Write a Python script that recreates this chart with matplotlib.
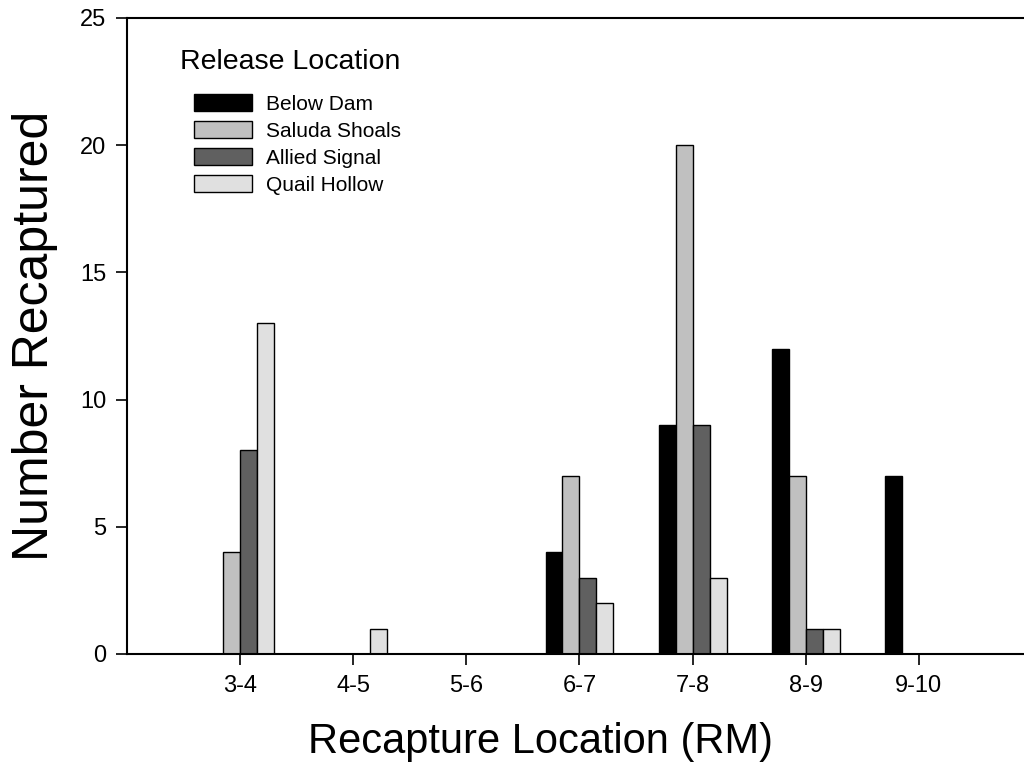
import matplotlib
matplotlib.use("Agg")
import matplotlib.pyplot as plt
import numpy as np

plt.rcParams['font.family'] = ['Liberation Sans', 'DejaVu Sans']

categories = ["3-4", "4-5", "5-6", "6-7", "7-8", "8-9", "9-10"]
series_names = ["Below Dam", "Saluda Shoals", "Allied Signal", "Quail Hollow"]
below_dam = [0, 0, 0, 4, 9, 12, 7]
saluda_shoals = [4, 0, 0, 7, 20, 7, 0]
allied_signal = [8, 0, 0, 3, 9, 1, 0]
quail_hollow = [13, 1, 0, 2, 3, 1, 0]
series_values = [below_dam, saluda_shoals, allied_signal, quail_hollow]
colors = ["#000000", "#c0c0c0", "#606060", "#e0e0e0"]
y_ticks = [0, 5, 10, 15, 20, 25]

fig = plt.figure(figsize=(10.24, 7.8), dpi=100)
ax = fig.add_axes([127/1024, 126/780, 897/1024, 636/780])

x = np.arange(len(categories))
w = 0.15
for i, (name, vals, c) in enumerate(zip(series_names, series_values, colors)):
    ax.bar(x + (i - 2) * w, vals, width=w, align='edge', color=c,
           edgecolor='black', linewidth=1.0, label=name, zorder=2)

ax.set_xlim(-1, 6.93)
ax.set_ylim(0, 25)
ax.set_xticks(x)
ax.set_xticklabels(categories, fontsize=17)
ax.set_yticks(y_ticks)
ax.set_yticklabels([str(t) for t in y_ticks], fontsize=17)
ax.tick_params(direction='out', length=8, width=1.2, pad=7)
ax.spines['right'].set_visible(False)
for s in ['left', 'top', 'bottom']:
    ax.spines[s].set_linewidth(1.5)
    ax.spines[s].set_zorder(3)

ax.set_xlabel("Recapture Location (RM)", fontsize=30)
ax.xaxis.set_label_coords((541 - 127) / 897, -68 / 636)
ax.set_ylabel("Number Recaptured", fontsize=36, labelpad=16)

fig.text(180/1024, 1 - 62/780, "Release Location", fontsize=20.5,
         ha='left', va='center')
leg = ax.legend(loc='upper left', bbox_to_anchor=(194/1024, 1 - 94/780),
                bbox_transform=fig.transFigure, frameon=False, fontsize=15,
                borderpad=0, borderaxespad=0,
                handlelength=2.8, handleheight=0.85,
                handletextpad=0.67, labelspacing=0.36)

fig.savefig("out.png", dpi=100)
